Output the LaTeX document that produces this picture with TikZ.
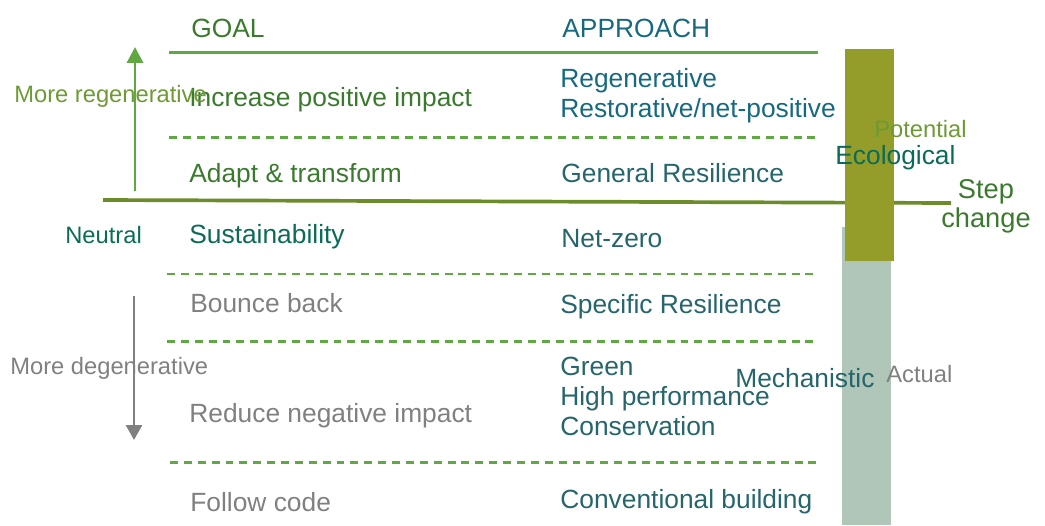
\documentclass[tikz,border=0pt]{standalone}
\usepackage{fontspec}
\setmainfont{Liberation Sans}
\usetikzlibrary{arrows.meta}

\definecolor{goalgreen}{HTML}{3B7A2E}
\definecolor{apptealA}{HTML}{17697F}
\definecolor{apptealB}{HTML}{25656B}
\definecolor{neutteal}{HTML}{0B6B57}
\definecolor{olivetext}{HTML}{6E9A35}
\definecolor{linegreen}{HTML}{5FA843}
\definecolor{thickolive}{HTML}{6C8C2A}
\definecolor{barolive}{HTML}{949D29}
\definecolor{bargrey}{HTML}{AFC6B9}
\definecolor{greytext}{HTML}{808080}

\begin{document}
\begin{tikzpicture}[x=0.02cm,y=-0.02cm]
        \useasboundingbox (0,0) rectangle (1045,525);

        \coordinate (top1) at (169,52.5);
        \coordinate (top2) at (818,52.5);
        \coordinate (neu1) at (103,200);
        \coordinate (neu2) at (951,203);
        \coordinate (up1)  at (135,191);
        \coordinate (up2)  at (135,47);
        \coordinate (dn1)  at (134,296);
        \coordinate (dn2)  at (134,440);

        \draw[linegreen, line width=1.3pt] (top1) -- (top2);
        \begin{scope}[linegreen, line width=1.4pt, dash pattern=on 4.5pt off 3.4pt]
          \draw (169,137.5) -- (818,137.5);
          \draw (167,274) -- (816,274);
          \draw (167,341.5) -- (816,341.5);
          \draw (170,462.5) -- (818,462.5);
        \end{scope}
        \draw[thickolive, line width=2.1pt] (neu1) -- (neu2);

        \fill[bargrey] (842,227) rectangle (891,525);
        \fill[barolive] (845,49) rectangle (894,261);

        \begin{scope}[every node/.style={anchor=base west, inner sep=0pt,
            font=\fontsize{15}{18}\selectfont}]
          \node[goalgreen] (goal) at (191,37)  {GOAL};
          \node[goalgreen] (g1) at (189,106) {Increase positive impact};
          \node[goalgreen] (g2) at (189,182) {Adapt \& transform};
          \node[neutteal]  (g3) at (189,243) {Sustainability};
          \node[greytext]  (g4) at (190,312) {Bounce back};
          \node[greytext]  (g5) at (189,422) {Reduce negative impact};
          \node[greytext]  (g6) at (190,511) {Follow code};

          \node[apptealA] (appr) at (562,37) {APPROACH};
          \node[apptealA] (a1) at (560,87)  {Regenerative};
          \node[apptealA] (a2) at (560,117) {Restorative/net-positive};
          \node[apptealB] (a3) at (561,182) {General Resilience};
          \node[apptealB] (a4) at (561,247) {Net-zero};
          \node[apptealB] (a5) at (560,313) {Specific Resilience};
          \node[apptealB] (a6) at (560,375) {Green};
          \node[apptealB] (a7) at (560,405) {High performance};
          \node[apptealB] (a8) at (560,435) {Conservation};
          \node[apptealB] (a9) at (560,508) {Conventional building};

          \node[apptealB] (mech) at (735,387) {Mechanistic};
          \node[neutteal] (eco)  at (835,164) {Ecological};
        \end{scope}

        \begin{scope}[every node/.style={anchor=base west, inner sep=0pt,
            font=\fontsize{13.5}{16}\selectfont}]
          \node[olivetext] (morereg) at (14,102) {More regenerative};
          \node[neutteal]  (neutral) at (65,243) {Neutral};
          \node[greytext]  (moredeg) at (10,374) {More degenerative};
          \node[olivetext] (pot)     at (874,137) {Potential};
          \node[greytext]  (act)     at (886,382) {Actual};
        \end{scope}

        \node[goalgreen, inner sep=0pt, align=center, anchor=base,
          font=\fontsize{15.5}{16.5}\selectfont] (step) at (986,227) {Step\\change};

        \draw[linegreen, line width=1.7pt, -{Triangle[length=9pt, width=9pt]}] (up1) -- (up2);
        \draw[greytext, line width=1.7pt, -{Triangle[length=8.5pt, width=9pt]}] (dn1) -- (dn2);

      \end{tikzpicture}
\end{document}
